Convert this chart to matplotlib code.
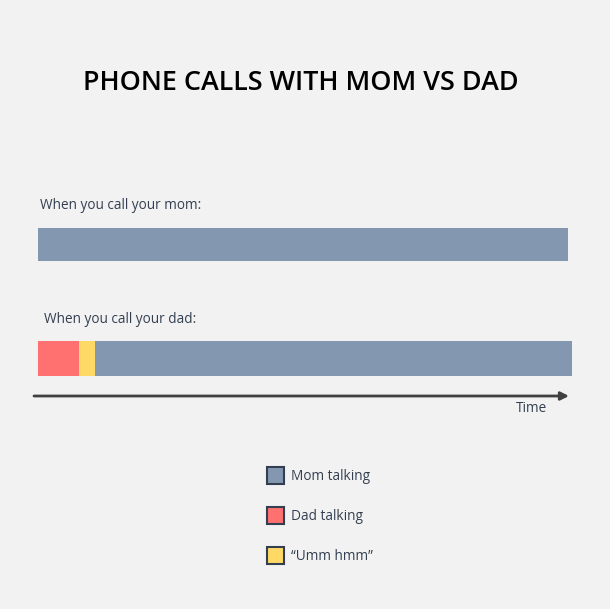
import matplotlib.pyplot as plt
from matplotlib.patches import Rectangle

# segment lengths along the time axis (px units of the original chart)
mom_call = [530]
dad_call = [40.5, 16, 477.5]
dad_colors = ['#ff7070', '#ffd966', '#8497b0']
legend_labels = ['Mom talking', 'Dad talking', '\u201cUmm hmm\u201d']
legend_colors = ['#8497b0', '#ff7070', '#ffd966']

bg = '#f2f2f2'
txt = '#333f50'

fig = plt.figure(figsize=(6.1, 6.09), dpi=100, facecolor=bg)
ax = fig.add_axes([0, 0, 1, 1])
ax.set_facecolor(bg)
ax.set_xlim(0, 610)
ax.set_ylim(609, 0)
ax.axis('off')

font = 'Open Sans'

ax.text(300.5, 82.5, 'PHONE CALLS WITH MOM VS DAD', ha='center', va='center',
        fontsize=19.4, fontweight='semibold', color='black', family=font)

# mom call bar
ax.text(40, 205.5, 'When you call your mom:', ha='left', va='center',
        fontsize=9.8, color=txt, family=font)
ax.barh(244.5, mom_call[0], height=33, left=38, color='#8497b0')

# dad call bar
ax.text(44, 319.5, 'When you call your dad:', ha='left', va='center',
        fontsize=9.8, color=txt, family=font)
left = 38
for w, c in zip(dad_call, dad_colors):
    ax.barh(358.5, w, height=35, left=left, color=c)
    left += w

# time arrow
ax.annotate('', xy=(569, 396), xytext=(34, 396),
            arrowprops=dict(arrowstyle='-|>', color='#404040', lw=2,
                            mutation_scale=12, shrinkA=0, shrinkB=0))
ax.text(531, 409, 'Time', ha='center', va='center', fontsize=9.8,
        color=txt, family=font)

# legend
for i, (lab, c) in enumerate(zip(legend_labels, legend_colors)):
    y = 475.5 + 40 * i
    ax.add_patch(Rectangle((266.5, y - 8.5), 17, 17, facecolor=c,
                           edgecolor='#333f50', lw=1.5))
    ax.text(291, y + 1.5, lab, ha='left', va='center', fontsize=9.8,
            color=txt, family=font)

fig.savefig('out.png', dpi=100, facecolor=bg)
